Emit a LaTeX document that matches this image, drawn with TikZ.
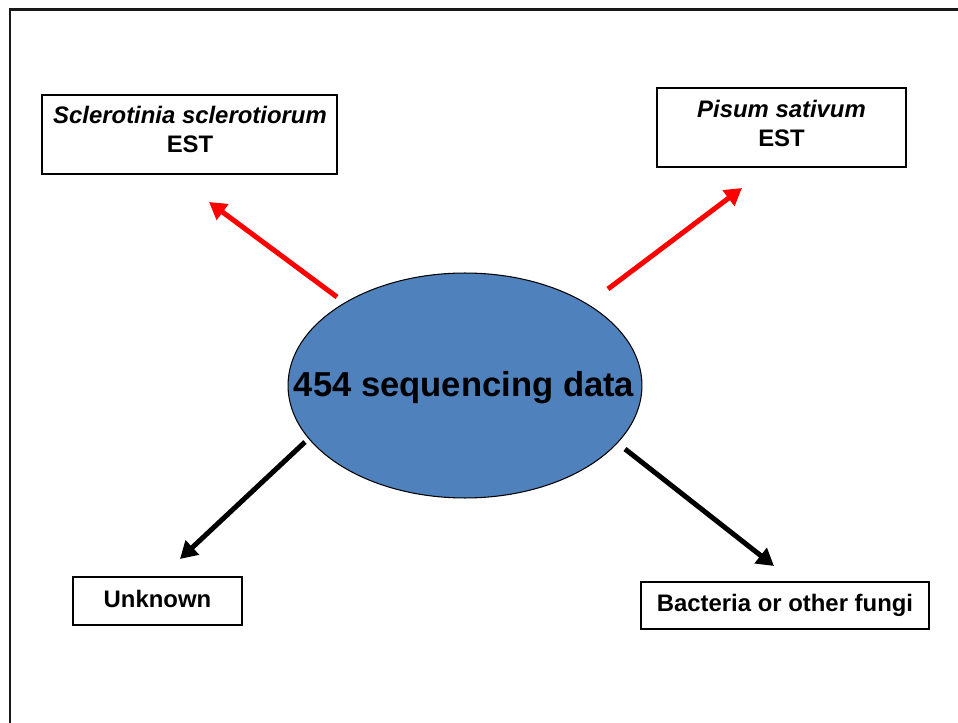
\documentclass[tikz,border=0pt]{standalone}
\usepackage{fontspec}
\setmainfont{Liberation Sans}
\usetikzlibrary{shapes.geometric,arrows.meta}
\definecolor{seqblue}{HTML}{4F81BD}
\newcommand{\pix}{0.02cm}
\newcommand{\boxfont}{\fontsize{13.6}{16.5}\selectfont\bfseries}
\tikzset{
  labelbox/.style={draw, line width=0.7pt, inner sep=0pt},
  boxtext/.style={font=\boxfont, align=center, inner sep=0pt},
  redarrow/.style={red, line width=0.1cm, -{Triangle[length=0.34cm, width=0.38cm]}},
  blackarrow/.style={black, line width=0.1cm, -{Triangle[length=0.34cm, width=0.38cm]}}
}

\begin{document}
\begin{tikzpicture}[x=\pix, y=-\pix]
        \useasboundingbox (0,0) rectangle (958,723);
        \draw[line width=0.06cm, black!90] (10,723) -- (10,10) -- (958,10);
        % centre
        \node[draw, ellipse, fill=seqblue, line width=0.6pt, minimum width=7.08cm, minimum height=4.5cm, inner sep=0pt] (seq) at (465,385.5) {};
        \node[font=\fontsize{19.7}{20}\selectfont\bfseries, inner sep=0pt] (seqtext) at (464,387.5) {454 sequencing data};
        % boxes
        \node[labelbox, minimum width=5.9cm, minimum height=1.58cm] (sclero) at (189.5,134.5) {};
        \node[boxtext] (sclerotext) at (190,129) {\textit{Sclerotinia sclerotiorum}\\EST};
        \node[labelbox, minimum width=4.98cm, minimum height=1.58cm] (pisum) at (781.5,127.5) {};
        \node[boxtext] (pisumtext) at (781.5,123) {\textit{Pisum sativum}\\EST};
        \node[labelbox, minimum width=3.38cm, minimum height=0.96cm] (unknown) at (157.5,601) {};
        \node[boxtext] (unknowntext) at (157.5,598.5) {Unknown};
        \node[labelbox, minimum width=5.76cm, minimum height=0.94cm] (bact) at (785,605.5) {};
        \node[boxtext] (bacttext) at (785,605) {Bacteria or other fungi};
        % arrow ends
        \coordinate (ulfrom) at (337,297);
        \coordinate (ulto) at (209,202);
        \coordinate (urfrom) at (608,289);
        \coordinate (urto) at (742,188);
        \coordinate (llfrom) at (305,442);
        \coordinate (llto) at (180,559);
        \coordinate (lrfrom) at (625,449);
        \coordinate (lrto) at (774,566);
        \draw[redarrow] (ulfrom) -- (ulto);
        \draw[redarrow] (urfrom) -- (urto);
        \draw[blackarrow] (llfrom) -- (llto);
        \draw[blackarrow] (lrfrom) -- (lrto);
\end{tikzpicture}
\end{document}
